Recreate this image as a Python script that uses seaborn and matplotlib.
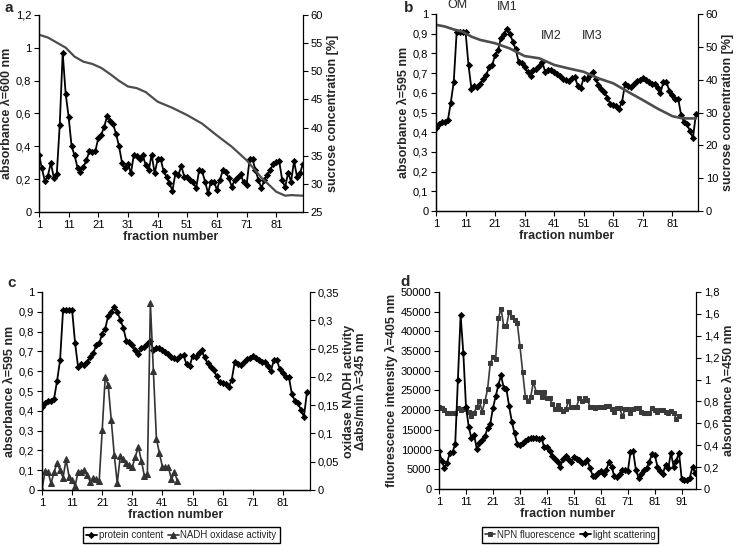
import numpy as np
import matplotlib
matplotlib.use("Agg")
import matplotlib.pyplot as plt
import seaborn as sns
from matplotlib.ticker import FuncFormatter, MultipleLocator

sns.set_theme(style="white")
plt.rcParams["font.family"] = ["Liberation Sans", "DejaVu Sans"]

# panel a: absorbance at 600 nm per fraction, sucrose gradient
abs600 = [0.35, 0.265, 0.187, 0.22, 0.30, 0.21, 0.23, 0.53, 0.97, 0.72,
          0.58, 0.40, 0.345, 0.27, 0.245, 0.275, 0.315, 0.37, 0.365, 0.37,
          0.45, 0.47, 0.52, 0.585, 0.555, 0.535, 0.475, 0.40, 0.30, 0.265,
          0.295, 0.235, 0.35, 0.34, 0.325, 0.345, 0.285, 0.255, 0.35, 0.235,
          0.32, 0.325, 0.25, 0.215, 0.175, 0.13, 0.235, 0.225, 0.28, 0.215,
          0.215, 0.195, 0.18, 0.145, 0.255, 0.25, 0.185, 0.115, 0.185, 0.185,
          0.135, 0.195, 0.255, 0.245, 0.205, 0.155, 0.195, 0.215, 0.23, 0.18,
          0.165, 0.32, 0.32, 0.255, 0.195, 0.145, 0.195, 0.225, 0.255, 0.295,
          0.305, 0.31, 0.195, 0.15, 0.24, 0.185, 0.31, 0.215, 0.235, 0.295]
sucrose_a_frac = [1, 4, 7, 10, 13, 16, 19, 22, 25, 28, 31, 34, 37, 41, 46,
                  51, 56, 61, 66, 71, 76, 79, 81, 84, 86, 90]
sucrose_a = [56.5, 56.0, 55.1, 54.2, 52.6, 51.7, 51.3, 50.6, 49.5, 48.3,
             47.3, 47.0, 46.3, 44.6, 43.5, 42.2, 40.7, 38.6, 36.6, 34.2,
             31.1, 29.6, 28.6, 27.9, 28.0, 27.9]

# panels b and c: protein content (absorbance 595 nm)
protein = [0.42, 0.44, 0.45, 0.45, 0.46, 0.55, 0.655, 0.91, 0.91, 0.91,
           0.91, 0.74, 0.62, 0.635, 0.63, 0.645, 0.67, 0.69, 0.73, 0.74,
           0.79, 0.815, 0.88, 0.90, 0.925, 0.90, 0.86, 0.82, 0.755, 0.75,
           0.73, 0.705, 0.685, 0.715, 0.72, 0.735, 0.755, 0.705, 0.715, 0.715,
           0.705, 0.695, 0.685, 0.67, 0.665, 0.66, 0.675, 0.68, 0.635, 0.625,
           0.675, 0.67, 0.69, 0.705, 0.67, 0.64, 0.62, 0.605, 0.575, 0.545,
           0.54, 0.535, 0.52, 0.555, 0.645, 0.635, 0.63, 0.645, 0.66, 0.665,
           0.675, 0.665, 0.655, 0.645, 0.645, 0.625, 0.60, 0.655, 0.655, 0.61,
           0.59, 0.57, 0.57, 0.485, 0.45, 0.44, 0.405, 0.37, 0.495]
sucrose_b_frac = [1, 4, 7, 10, 13, 16, 21, 26, 31, 36, 41, 46, 51, 56, 61,
                  66, 71, 76, 81, 84, 86, 89]
sucrose_b = [56.7, 56.2, 55.3, 54.6, 53.1, 52.1, 51.1, 49.5, 47.2, 46.5,
             44.5, 43.4, 42.4, 40.4, 38.9, 36.3, 33.8, 31.2, 28.9, 28.3,
             28.2, 28.2]

nadh = [0.0, 0.0335, 0.032, 0.012, 0.031, 0.048, 0.035, 0.022, 0.054, 0.0235,
        0.018, 0.007, 0.032, 0.032, 0.035, 0.026, 0.015, 0.021, 0.019, 0.016,
        0.106, 0.20, 0.185, 0.124, 0.062, 0.012, 0.06, 0.054, 0.047, 0.044,
        0.041, 0.059, 0.076, 0.052, 0.025, 0.029, 0.33, 0.21, 0.091, 0.065,
        0.041, 0.04, 0.04, 0.019, 0.031, 0.016]

# panel d
npn = [20750, 20650, 20000, 19200, 19200, 19200, 19200, 20500, 20000, 20200,
       20500, 19650, 18400, 19200, 20900, 22200, 19650, 22200, 25300, 31900,
       33400, 32900, 43300, 45800, 41300, 41300, 44900, 43700, 42800, 42200,
       36300, 29800, 23400, 22400, 23400, 27200, 24700, 24700, 23400, 24700,
       23000, 23000, 21500, 20200, 21300, 20200, 19800, 20200, 22200, 20900,
       20900, 20900, 23000, 22200, 23000, 22600, 20900, 20900, 20500, 20900,
       20900, 20700, 21100, 21100, 20200, 19600, 20500, 20500, 18400, 20200,
       20200, 19200, 20200, 20500, 20500, 19600, 19200, 19200, 19200, 20500,
       20000, 19600, 20000, 20000, 19600, 19400, 19800, 19200, 17800, 18500]
scatter = [0.343, 0.26, 0.19, 0.24, 0.33, 0.335, 0.41, 1.0, 1.59, 1.245,
           0.75, 0.57, 0.465, 0.495, 0.365, 0.42, 0.45, 0.48, 0.555, 0.595,
           0.74, 0.845, 0.95, 1.04, 0.92, 0.91, 0.755, 0.615, 0.51, 0.41,
           0.40, 0.42, 0.435, 0.455, 0.465, 0.47, 0.47, 0.455, 0.465, 0.38,
           0.38, 0.343, 0.30, 0.27, 0.25, 0.205, 0.27, 0.30, 0.27, 0.25,
           0.29, 0.27, 0.265, 0.235, 0.25, 0.265, 0.19, 0.12, 0.12, 0.15,
           0.16, 0.14, 0.175, 0.245, 0.205, 0.115, 0.11, 0.14, 0.175, 0.17,
           0.16, 0.335, 0.343, 0.175, 0.10, 0.14, 0.175, 0.19, 0.25, 0.32,
           0.313, 0.205, 0.16, 0.14, 0.22, 0.19, 0.33, 0.205, 0.26, 0.33,
           0.09, 0.085, 0.08, 0.10, 0.205, 0.145]


def frac(values):
    return np.arange(1, len(values) + 1)


comma = FuncFormatter(lambda v, p: f"{v:.10g}".replace(".", ","))
FS = 8
LAB = dict(fontsize=9, fontweight="bold")
GREY = "#4d4d4d"


def style(ax, ax2, xmax, xticks):
    ax.set_xlim(1, xmax)
    ax.set_xticks(xticks)
    for a in (ax, ax2):
        a.spines["top"].set_visible(False)
        for s in ("left", "right", "bottom"):
            a.spines[s].set_color("black")
            a.spines[s].set_linewidth(0.9)
        a.tick_params(axis="both", which="both", direction="out", length=3.5,
                      width=0.8, labelsize=FS, colors="black", pad=2)
        a.yaxis.set_major_formatter(comma)
        a.grid(False)
    ax.spines["right"].set_visible(False)
    ax.tick_params(axis="x", bottom=True)
    ax.tick_params(axis="y", left=True)
    ax2.tick_params(axis="y", right=True)
    ax.set_xlabel("fraction number", labelpad=1, **LAB)


line_kw = dict(color="black", linewidth=1.3, marker="D", markersize=3.2,
               markeredgecolor="black", markeredgewidth=0.5)
leg_kw = dict(loc="center", ncol=2, fontsize=7, frameon=True, fancybox=False,
              edgecolor="black", handlelength=1.1, handletextpad=0.2,
              columnspacing=0.5, borderpad=0.3, borderaxespad=0,
              framealpha=1)

fig = plt.figure(figsize=(7.38, 5.45), dpi=100)

# ---- a
ax = fig.add_axes([0.0528, 0.611, 0.3577, 0.3615])
ax2 = ax.twinx()
sns.lineplot(x=frac(abs600), y=abs600, ax=ax, **line_kw)
sns.lineplot(x=sucrose_a_frac, y=sucrose_a, ax=ax2, color=GREY, linewidth=1.6)
ax.set_ylim(0, 1.2)
ax.yaxis.set_major_locator(MultipleLocator(0.2))
ax2.set_ylim(25, 60)
ax2.yaxis.set_major_locator(MultipleLocator(5))
style(ax, ax2, 90, range(1, 90, 10))
ax.set_ylabel("absorbance λ=600 nm", labelpad=2, **LAB)
ax2.set_ylabel("sucrose concentration [%]", labelpad=3, **LAB)
fig.text(0.006, 0.998, "a", fontsize=11, fontweight="bold", va="top")

# ---- b
ax = fig.add_axes([0.5908, 0.6128, 0.355, 0.3615])
ax2 = ax.twinx()
sns.lineplot(x=sucrose_b_frac, y=sucrose_b, ax=ax2, color=GREY, linewidth=1.9)
sns.lineplot(x=frac(protein), y=protein, ax=ax, **line_kw)
ax.set_ylim(0, 1)
ax.yaxis.set_major_locator(MultipleLocator(0.1))
ax2.set_ylim(0, 60)
ax2.yaxis.set_major_locator(MultipleLocator(10))
style(ax, ax2, 89.7, range(1, 90, 10))
ax.set_ylabel("absorbance λ=595 nm", labelpad=2, **LAB)
ax2.set_ylabel("sucrose concentration [%]", labelpad=3, **LAB)
for txt, xf, yv in [("OM", 8.4, 1.045), ("IM1", 25.2, 1.035),
                    ("IM2", 40.0, 0.888), ("IM3", 54.0, 0.888)]:
    ax.text(xf, yv, txt, fontsize=9, ha="center", va="center", clip_on=False)
fig.text(0.548, 0.998, "b", fontsize=11, fontweight="bold", va="top")

# ---- c
ax = fig.add_axes([0.0569, 0.1009, 0.3631, 0.3633])
ax2 = ax.twinx()
sns.lineplot(x=frac(protein), y=protein, ax=ax, label="protein content", **line_kw)
sns.lineplot(x=frac(nadh), y=nadh, ax=ax2, color="#333333", linewidth=1.2,
             marker="^", markersize=3.8, markeredgecolor="#333333",
             label="NADH oxidase activity")
ax.set_ylim(0, 1)
ax.yaxis.set_major_locator(MultipleLocator(0.1))
ax2.set_ylim(0, 0.35)
ax2.yaxis.set_major_locator(MultipleLocator(0.05))
style(ax, ax2, 90, range(1, 90, 10))
ax.set_ylabel("absorbance λ=595 nm", labelpad=2, **LAB)
ax2.set_ylabel("oxidase NADH activity\nΔabs/min λ=345 nm", labelpad=3,
               linespacing=1.0, **LAB)
h1, l1 = ax.get_legend_handles_labels()
h2, l2 = ax2.get_legend_handles_labels()
ax2.get_legend().remove()
ax.legend(h1 + h2, l1 + l2, bbox_to_anchor=(0.52, -0.227), **leg_kw)
fig.text(0.010, 0.481, "c", fontsize=11, fontweight="bold", va="center")

# ---- d
ax = fig.add_axes([0.5949, 0.1028, 0.3482, 0.3615])
ax2 = ax.twinx()
sns.lineplot(x=frac(npn), y=npn, ax=ax, color="#3a3a3a", linewidth=1.2,
             marker="s", markersize=3.4, markeredgecolor="#3a3a3a",
             label="NPN fluorescence")
sns.lineplot(x=frac(scatter), y=scatter, ax=ax2, label="light scattering", **line_kw)
ax.set_ylim(0, 50000)
ax.yaxis.set_major_locator(MultipleLocator(5000))
ax2.set_ylim(0, 1.8)
ax2.yaxis.set_major_locator(MultipleLocator(0.2))
style(ax, ax2, 96.3, range(1, 97, 10))
ax.set_ylabel("fluorescence intensity λ=405 nm", labelpad=2, **LAB)
ax2.set_ylabel("absorbance λ=450 nm", labelpad=3, **LAB)
h1, l1 = ax.get_legend_handles_labels()
h2, l2 = ax2.get_legend_handles_labels()
ax2.get_legend().remove()
ax.legend(h1 + h2, l1 + l2, bbox_to_anchor=(0.51, -0.233), **leg_kw)
fig.text(0.543, 0.483, "d", fontsize=11, fontweight="bold", va="center")

fig.savefig("out.png", dpi=100, facecolor="white")
